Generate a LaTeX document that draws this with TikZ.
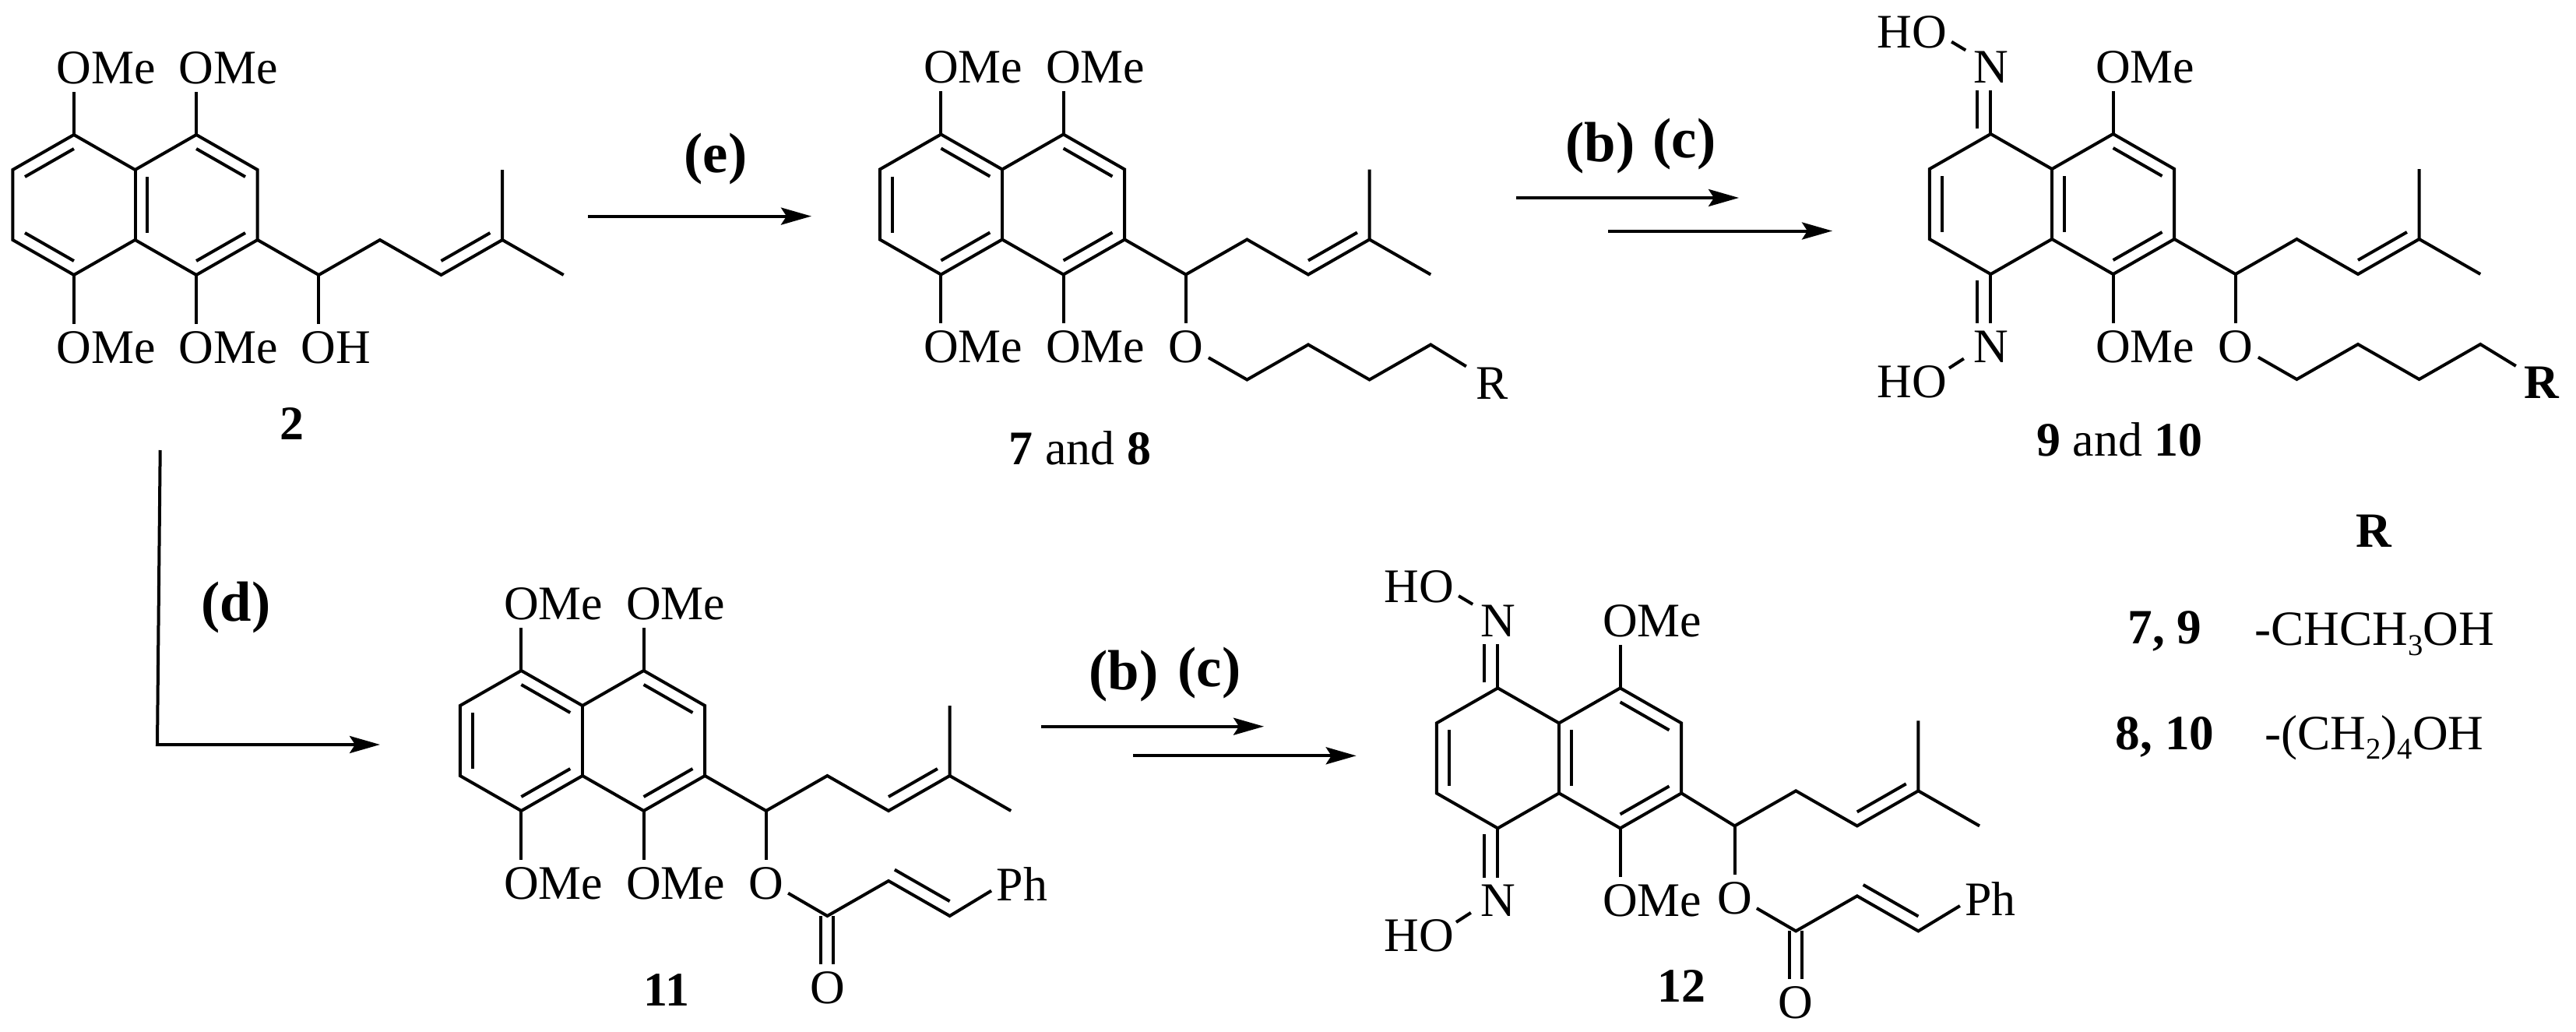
\documentclass[tikz,border=0pt]{standalone}
\usepackage{fontspec}
\setmainfont{Liberation Serif}
\usetikzlibrary{arrows.meta,calc}

\tikzset{
  bond/.style={line width=0.04cm},
  rxn/.style={line width=0.04cm,-{Stealth[length=0.39cm,width=0.22cm,inset=0.07cm]}},
  mol/.style={x=0.786cm,y=0.45cm},
  atom/.style={inner xsep=0pt,inner ysep=0.09cm},
  lbl/.style={inner sep=0pt},
  step label/.style={inner sep=0pt,font=\fontsize{20.7}{24}\selectfont\bfseries},
  table text/.style={inner sep=0pt,anchor=base,font=\fontsize{18}{21}\selectfont},
}

% ring skeleton with its two ring centres
\newcommand{\naphcore}{
  \coordinate (c1) at (1,1);
  \coordinate (c2) at (2,0);
  \coordinate (c3) at (2,-2);
  \coordinate (c4) at (1,-3);
  \coordinate (c4a) at (0,-2);
  \coordinate (c5) at (-1,-3);
  \coordinate (c6) at (-2,-2);
  \coordinate (c7) at (-2,0);
  \coordinate (c8) at (-1,1);
  \coordinate (c8a) at (0,0);
  \coordinate (lc) at (-1,-1);
  \coordinate (rc) at (1,-1);
  \draw[bond] (c1) -- (c2) -- (c3) -- (c4) -- (c4a) -- (c5) -- (c6) -- (c7) -- (c8) -- (c8a) -- (c1);
  \draw[bond] (c8a) -- (c4a);
  \innerbond{c1}{c2}{rc}
  \innerbond{c3}{c4}{rc}
}
% second line of a double bond, drawn towards a centre
\newcommand{\innerbond}[3]{
  \draw[bond] ($(#1)!0.2!(#3)$) -- ($(#2)!0.2!(#3)$);
}
% OMe label: node centred on the O, bond to the ring atom
\newcommand{\ome}[3]{
  \node[atom] (#1) at (#2) {O\rlap{Me}};
  \draw[bond] (#3) -- (#1);
}
% side chain up to the two methyls
\newcommand{\prenyl}{
  \coordinate (s1) at (3,-3);
  \coordinate (s2) at (4,-2);
  \coordinate (s3) at (5,-3);
  \coordinate (s4) at (6,-2);
  \coordinate (s5) at (6,0);
  \coordinate (s6) at (7,-3);
  \coordinate (sc) at (5,-1);
  \draw[bond] (c3) -- (s1) -- (s2) -- (s3) -- (s4) -- (s5);
  \draw[bond] (s4) -- (s6);
  \innerbond{s3}{s4}{sc}
}
% ether chain ending in R
\newcommand{\etherchain}[1]{
  \node[atom] (ox) at (3,-5.07) {O};
  \draw[bond] (s1) -- (ox);
  \coordinate (t0) at (3.37,-5.37);
  \coordinate (t1) at (4,-6);
  \coordinate (t2) at (5,-5);
  \coordinate (t3) at (6,-6);
  \coordinate (t4) at (7,-5);
  \coordinate (t5) at (7.58,-5.62);
  \node[lbl] (rr) at (8,-6.1) {#1};
  \draw[bond] (t0) -- (t1) -- (t2) -- (t3) -- (t4) -- (t5);
}
% ester chain ending in Ph
\newcommand{\esterchain}{
  \node[atom] (ox) at (3,-5.07) {O};
  \draw[bond] (s1) -- (ox);
  \coordinate (e0) at (3.36,-5.35);
  \coordinate (e1) at (4,-6);
  \coordinate (e2) at (5,-5);
  \coordinate (e3) at (6,-6);
  \coordinate (e4) at (6.68,-5.28);
  \coordinate (v1) at (5.1,-4.68);
  \coordinate (v2) at (6,-5.58);
  \node[lbl] (ph) at (7.18,-5.09) {Ph};
  \node[atom] (ocarb) at (4,-8.05) {O};
  \draw[bond] (e0) -- (e1) -- (e2) -- (e3) -- (e4);
  \draw[bond] (v1) -- (v2);
  \draw[bond] ([xshift=-0.08cm]e1) -- ([xshift=-0.08cm]ocarb.north);
  \draw[bond] ([xshift=0.08cm]e1) -- ([xshift=0.08cm]ocarb.north);
}
% the two C=N-OH groups
\newcommand{\oximes}{
  \node[atom] (n1) at (-1,2.91) {N};
  \node[atom] (n2) at (-1,-5.07) {N};
  \node[lbl] (ho1) at (-2.29,3.9) {HO};
  \node[lbl] (ho2) at (-2.29,-6.07) {HO};
  \coordinate (hb1) at (-1.64,3.63);
  \coordinate (nb1) at (-1.41,3.39);
  \coordinate (hb2) at (-1.68,-5.68);
  \coordinate (nb2) at (-1.44,-5.41);
  \draw[bond] (c8) -- (n1);
  \draw[bond] ([xshift=-0.175cm,yshift=0.07cm]c8) -- ([xshift=-0.175cm]n1.south);
  \draw[bond] (c5) -- (n2);
  \draw[bond] ([xshift=-0.175cm,yshift=-0.08cm]c5) -- ([xshift=-0.175cm]n2.north);
  \draw[bond] (hb1) -- (nb1);
  \draw[bond] (hb2) -- (nb2);
}
% subscript in the R table
\newcommand{\subnum}[1]{\raisebox{-0.125cm}{\fontsize{11}{12}\selectfont #1}}

\begin{document}
\begin{tikzpicture}[font=\fontsize{17.6}{21}\selectfont]
\useasboundingbox (0,0) rectangle (33.08,-13.25);
% compound 2
\begin{scope}[name prefix=a-,shift={(1.735,-2.18)},mol]
\naphcore
\innerbond{c8}{c7}{lc}
\innerbond{c6}{c5}{lc}
\innerbond{c8a}{c4a}{rc}
\ome{o1}{1,2.91}{c1}
\ome{o2}{-1,2.91}{c8}
\ome{o3}{-1,-5.07}{c5}
\ome{o4}{1,-5.07}{c4}
\prenyl
\node[atom] (oh) at (3,-5.07) {O\rlap{H}};
\draw[bond] (s1) -- (oh);
\end{scope}
% compounds 7 and 8
\begin{scope}[name prefix=b-,shift={(12.87,-2.175)},mol]
\naphcore
\innerbond{c8}{c8a}{lc}
\innerbond{c7}{c6}{lc}
\innerbond{c5}{c4a}{lc}
\ome{o1}{1,2.91}{c1}
\ome{o2}{-1,2.91}{c8}
\ome{o3}{-1,-5.07}{c5}
\ome{o4}{1,-5.07}{c4}
\prenyl
\etherchain{R}
\end{scope}
% compounds 9 and 10
\begin{scope}[name prefix=c-,shift={(26.35,-2.17)},mol]
\naphcore
\innerbond{c7}{c6}{lc}
\innerbond{c8a}{c4a}{rc}
\oximes
\ome{o1}{1,2.91}{c1}
\ome{o4}{1,-5.07}{c4}
\prenyl
\etherchain{\textbf{R}}
\end{scope}
% compound 11
\begin{scope}[name prefix=d-,shift={(7.48,-9.06)},mol]
\naphcore
\innerbond{c8}{c8a}{lc}
\innerbond{c7}{c6}{lc}
\innerbond{c5}{c4a}{lc}
\ome{o1}{1,2.91}{c1}
\ome{o2}{-1,2.91}{c8}
\ome{o3}{-1,-5.07}{c5}
\ome{o4}{1,-5.07}{c4}
\prenyl
\esterchain
\end{scope}
% compound 12
\begin{scope}[name prefix=e-,shift={(20.02,-9.284)},mol]
\naphcore
\innerbond{c7}{c6}{lc}
\innerbond{c8a}{c4a}{rc}
\oximes
\ome{o1}{1,2.91}{c1}
\ome{o4}{1,-5.07}{c4}
\begin{scope}[xshift=-0.102cm,yshift=0.03cm]
\prenyl
\esterchain
\end{scope}
\end{scope}
% compound numbers
\node[lbl] (n2) at (3.75,-5.44) {\textbf{2}};
\node[lbl] (n7) at (13.87,-5.75) {\textbf{7} and \textbf{8}};
\node[lbl] (n9) at (27.22,-5.64) {\textbf{9} and \textbf{10}};
\node[lbl] (n11) at (8.56,-12.71) {\textbf{11}};
\node[lbl] (n12) at (21.59,-12.66) {\textbf{12}};
% arrows
\coordinate (ea) at (7.55,-2.776);
\coordinate (eb) at (10.42,-2.776);
\draw[rxn] (ea) -- (eb);
\coordinate (fa) at (19.47,-2.54);
\coordinate (fb) at (22.33,-2.54);
\draw[rxn] (fa) -- (fb);
\coordinate (ga) at (20.65,-2.965);
\coordinate (gb) at (23.53,-2.965);
\draw[rxn] (ga) -- (gb);
\coordinate (da) at (2.057,-5.78);
\coordinate (db) at (2.02,-9.56);
\coordinate (dc) at (4.88,-9.56);
\draw[rxn] (da) -- (db) -- (dc);
\coordinate (ha) at (13.37,-9.327);
\coordinate (hb) at (16.23,-9.327);
\draw[rxn] (ha) -- (hb);
\coordinate (ia) at (14.55,-9.703);
\coordinate (ib) at (17.417,-9.703);
\draw[rxn] (ia) -- (ib);
% reagents
\node[step label] (se) at (9.19,-2.04) {(e)};
\node[step label] (sb1) at (20.55,-1.9) {(b)};
\node[step label] (sc1) at (21.63,-1.85) {(c)};
\node[step label] (sd) at (3.03,-7.8) {(d)};
\node[step label] (sb2) at (14.43,-8.68) {(b)};
\node[step label] (sc2) at (15.53,-8.64) {(c)};
% R table
\node[table text] (rh) at (30.49,-7.027) {\textbf{R}};
\node[table text] (ra) at (27.8,-8.26) {\textbf{7, 9}};
\node[table text] (rb) at (27.8,-9.627) {\textbf{8, 10}};
\node[table text] (ta) at (30.49,-8.285) {-CHCH\subnum{3}OH};
\node[table text] (tb) at (30.49,-9.62) {-(CH\subnum{2})\subnum{4}OH};
\end{tikzpicture}
\end{document}
